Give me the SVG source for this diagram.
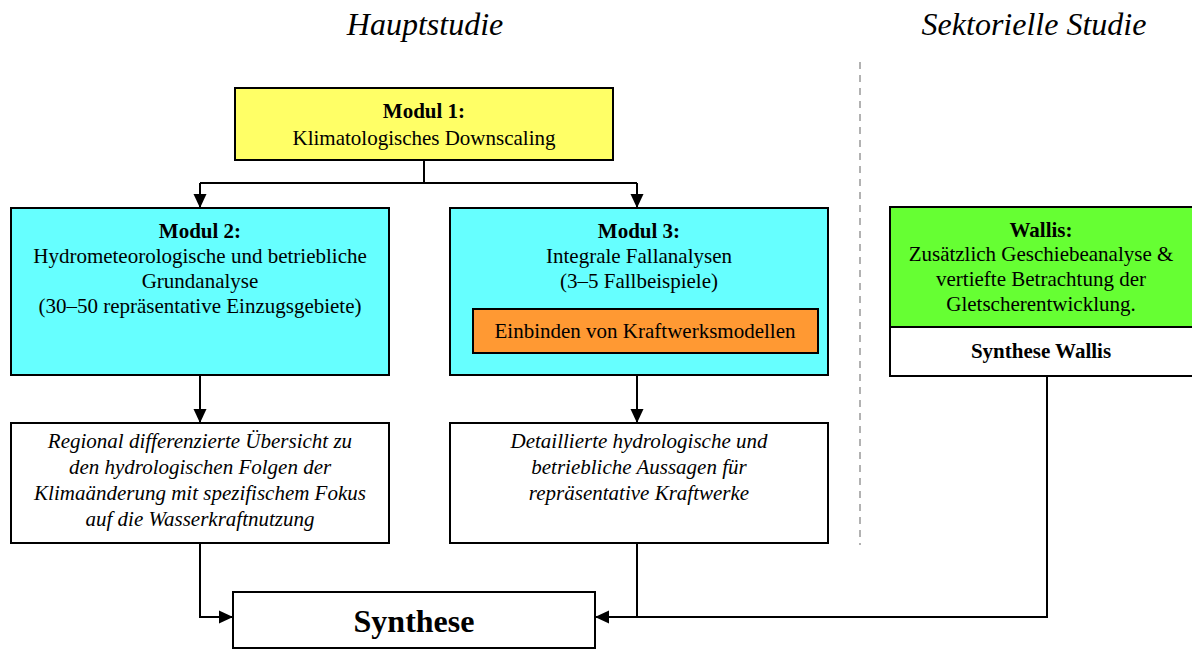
<svg xmlns="http://www.w3.org/2000/svg" width="1192" height="650" viewBox="0 0 1192 650">
<style>
text{font-family:"Liberation Serif","Times New Roman",serif;fill:#000;text-anchor:middle}
.t{font-size:21px}
.b{font-weight:bold}
.i{font-style:italic}
.box{stroke:#000;stroke-width:2}
.ln{fill:none;stroke:#000;stroke-width:2}
</style>
<defs>
<marker id="ah" markerWidth="14" markerHeight="14" refX="13" refY="6.5" orient="auto" markerUnits="userSpaceOnUse" viewBox="0 0 14 13">
<path d="M0,0 L14,6.5 L0,13 z" fill="#000"/>
</marker>
</defs>
<rect width="1192" height="650" fill="#fff"/>
<g id="headers">
<text x="425" y="35" class="i" font-size="32">Hauptstudie</text>
<text x="1034" y="35" class="i" font-size="32">Sektorielle Studie</text>
<line x1="860" y1="62" x2="860" y2="545" stroke="#999" stroke-width="1.5" stroke-dasharray="7,6"/>
</g>
<g id="connectors">
<polyline class="ln" points="424,160 424,183"/>
<polyline class="ln" points="200,183 637,183"/>
<polyline class="ln" points="200,183 200,207" marker-end="url(#ah)"/>
<polyline class="ln" points="637,183 637,207" marker-end="url(#ah)"/>
<polyline class="ln" points="200,375 200,422" marker-end="url(#ah)"/>
<polyline class="ln" points="637,375 637,422" marker-end="url(#ah)"/>
<polyline class="ln" points="200,543 200,617 232,617" marker-end="url(#ah)"/>
<polyline class="ln" points="637,543 637,617 596,617" marker-end="url(#ah)"/>
<polyline class="ln" points="1047,376 1047,617 637,617"/>
</g>
<g id="modul1">
<rect class="box" x="235" y="88" width="378" height="72" fill="#FFFF66"/>
<text x="424" y="118" class="t b">Modul 1:</text>
<text x="424" y="145" class="t">Klimatologisches Downscaling</text>
</g>
<g id="modul2">
<rect class="box" x="11" y="208" width="378" height="167" fill="#66FFFF"/>
<text x="200" y="238" class="t b">Modul 2:</text>
<text x="200" y="263" class="t">Hydrometeorologische und betriebliche</text>
<text x="200" y="288" class="t">Grundanalyse</text>
<text x="200" y="313" class="t">(30–50 repräsentative Einzugsgebiete)</text>
</g>
<g id="modul3">
<rect class="box" x="450" y="208" width="378" height="167" fill="#66FFFF"/>
<text x="639" y="238" class="t b">Modul 3:</text>
<text x="639" y="263" class="t">Integrale Fallanalysen</text>
<text x="639" y="288" class="t">(3–5 Fallbeispiele)</text>
<rect class="box" x="473" y="309" width="345" height="44" fill="#FF9933"/>
<text x="645" y="338" class="t">Einbinden von Kraftwerksmodellen</text>
</g>
<g id="wallis">
<rect class="box" x="890" y="207" width="304" height="120" fill="#66FF33"/>
<text x="1041" y="237" class="t b">Wallis:</text>
<text x="1041" y="261" class="t">Zusätzlich Geschiebeanalyse &amp;</text>
<text x="1041" y="286" class="t">vertiefte Betrachtung der</text>
<text x="1041" y="311" class="t">Gletscherentwicklung.</text>
<rect class="box" x="890" y="327" width="304" height="49" fill="#fff"/>
<text x="1041" y="358" class="t b">Synthese Wallis</text>
</g>
<g id="result2">
<rect class="box" x="11" y="423" width="378" height="120" fill="#fff"/>
<text x="200" y="448" class="t i">Regional differenzierte Übersicht zu</text>
<text x="200" y="474" class="t i">den hydrologischen Folgen der</text>
<text x="200" y="500" class="t i">Klimaänderung mit spezifischem Fokus</text>
<text x="200" y="526" class="t i">auf die Wasserkraftnutzung</text>
</g>
<g id="result3">
<rect class="box" x="450" y="423" width="378" height="120" fill="#fff"/>
<text x="639" y="448" class="t i">Detaillierte hydrologische und</text>
<text x="639" y="474" class="t i">betriebliche Aussagen für</text>
<text x="639" y="500" class="t i">repräsentative Kraftwerke</text>
</g>
<g id="synthese">
<rect class="box" x="233" y="592" width="362" height="56" fill="#fff"/>
<text x="414" y="632" class="b" font-size="32">Synthese</text>
</g>
</svg>
